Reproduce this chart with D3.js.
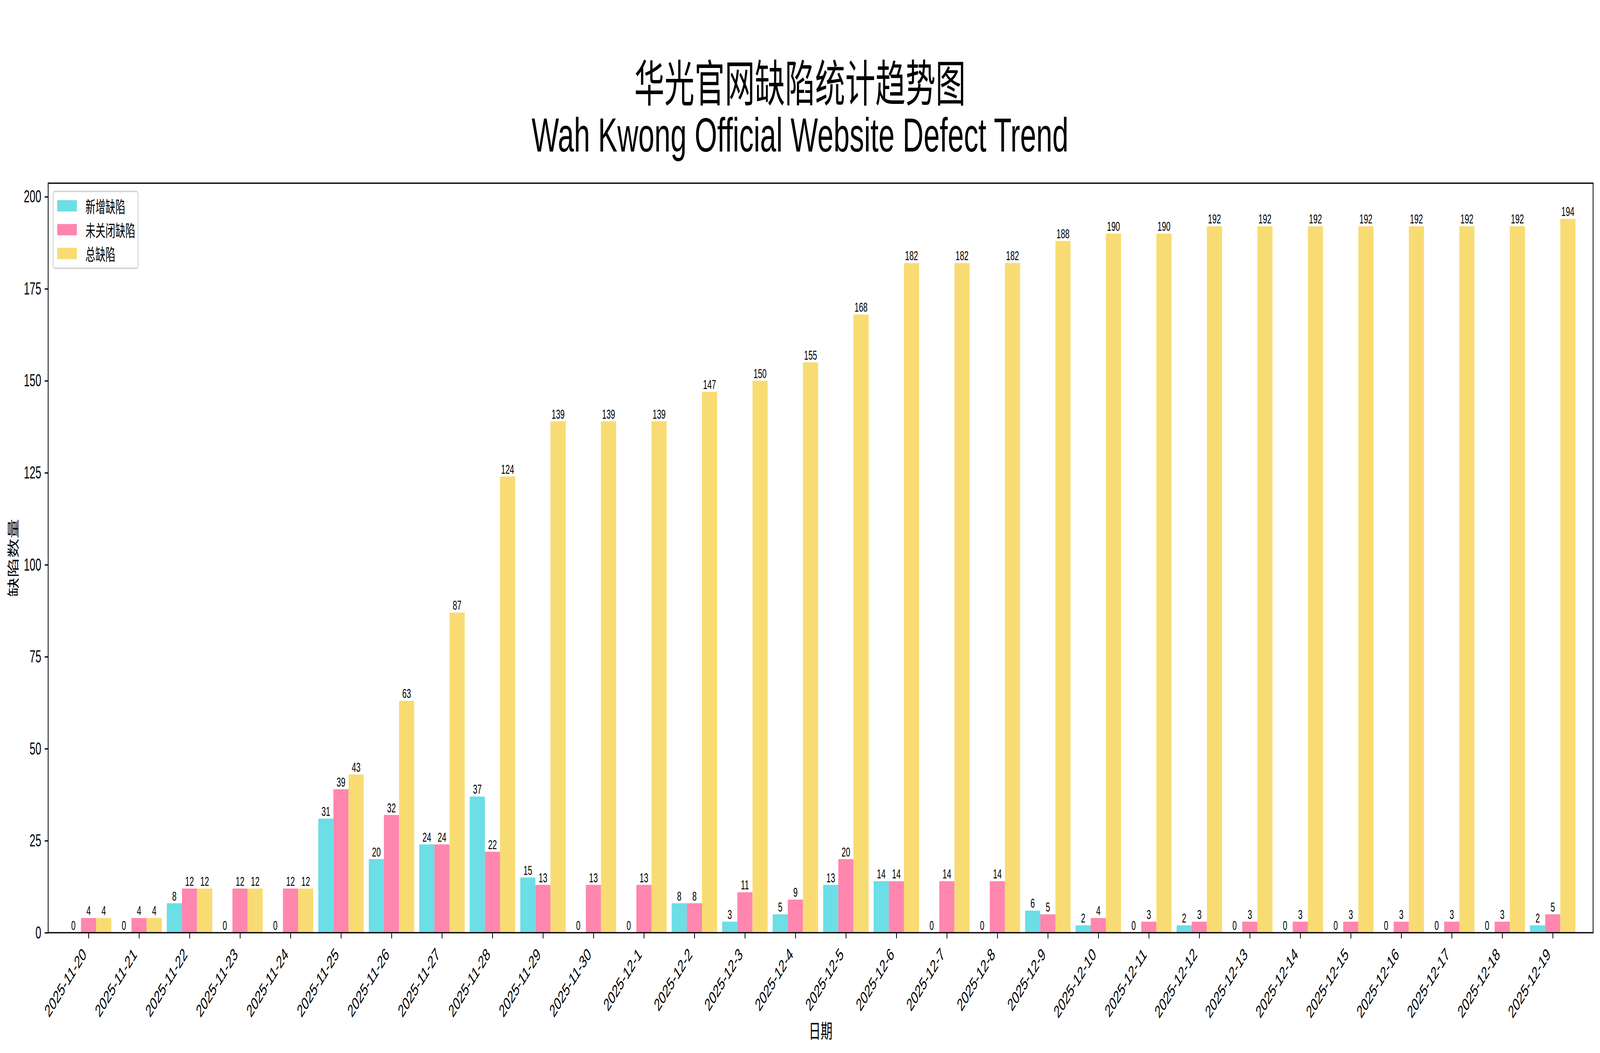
<!DOCTYPE html>
<html>
<head>
<meta charset="utf-8">
<script src="https://cdn.jsdelivr.net/npm/d3@7/dist/d3.min.js"></script>
<style>
  html, body { margin: 0; padding: 0; background: #fff; overflow: hidden; }
  svg { display: block; width: 100vw; height: 100vh; }
</style>
</head>
<body>
<script>
// Data
const dates = [
  "2025-11-20", "2025-11-21", "2025-11-22", "2025-11-23", "2025-11-24",
  "2025-11-25", "2025-11-26", "2025-11-27", "2025-11-28", "2025-11-29",
  "2025-11-30", "2025-12-1", "2025-12-2", "2025-12-3", "2025-12-4",
  "2025-12-5", "2025-12-6", "2025-12-7", "2025-12-8", "2025-12-9",
  "2025-12-10", "2025-12-11", "2025-12-12", "2025-12-13", "2025-12-14",
  "2025-12-15", "2025-12-16", "2025-12-17", "2025-12-18", "2025-12-19"
];
const newDefects = [0, 0, 8, 0, 0, 31, 20, 24, 37, 15, 0, 0, 8, 3, 5, 13, 14, 0, 0, 6, 2, 0, 2, 0, 0, 0, 0, 0, 0, 2];
const openDefects = [4, 4, 12, 12, 12, 39, 32, 24, 22, 13, 13, 13, 8, 11, 9, 20, 14, 14, 14, 5, 4, 3, 3, 3, 3, 3, 3, 3, 3, 5];
const totalDefects = [4, 4, 12, 12, 12, 43, 63, 87, 124, 139, 139, 139, 147, 150, 155, 168, 182, 182, 182, 188, 190, 190, 192, 192, 192, 192, 192, 192, 192, 194];
const seriesNames = ["新增缺陷", "未关闭缺陷", "总缺陷"];
const colors = ["#6cdee6", "#ff86ae", "#f8dc73"];
const yTicks = [0, 25, 50, 75, 100, 125, 150, 175, 200];

const W = 6743, H = 2696;
const margin = { top: 469, right: W - 6714, bottom: H - 2388, left: 203 };
const font = "'Liberation Sans', 'Noto Sans CJK SC', sans-serif";
const cjk = "'Noto Sans CJK SC', sans-serif";
const tickLen = 14.6, lw = 3.3;

const series = [newDefects, openDefects, totalDefects];
const barW = 0.3;
const offsets = [-0.3, 0, 0.3];

const x = d3.scaleLinear().domain([-0.8, dates.length - 1 + 0.8]).range([margin.left, W - margin.right]);
const y = d3.scaleLinear().domain([0, 194 * 1.05]).range([H - margin.bottom, margin.top]);

// drawn in 6743x2696 units, stretched to whatever the window really is
const svg = d3.select("body").append("svg")
  .attr("viewBox", `0 0 ${W} ${H}`)
  .attr("preserveAspectRatio", "none")
  .style("font-family", font);

svg.append("rect").attr("width", W).attr("height", H).attr("fill", "#fff");

// bars + value labels
series.forEach((vals, s) => {
  const g = svg.append("g");
  g.selectAll("rect")
    .data(vals)
    .enter().append("rect")
    .attr("x", (d, i) => x(i + offsets[s] - barW / 2))
    .attr("width", x(barW) - x(0))
    .attr("y", d => y(d))
    .attr("height", d => y(0) - y(d))
    .attr("fill", colors[s]);
  g.selectAll("text")
    .data(vals)
    .enter().append("text")
    .attr("x", (d, i) => x(i + offsets[s]))
    .attr("y", d => y(d) - 7)
    .attr("text-anchor", "middle")
    .attr("font-size", 33)
    .attr("fill", "#000")
    .text(d => d);
});

// Y axis
const yAxis = svg.append("g")
  .attr("transform", `translate(${margin.left},0)`)
  .call(d3.axisLeft(y).tickValues(yTicks).tickSize(tickLen).tickPadding(tickLen));
yAxis.select(".domain").remove();
yAxis.selectAll("line").attr("stroke", "#000").attr("stroke-width", lw);
yAxis.selectAll("text").attr("font-size", 44).attr("font-family", font).attr("fill", "#000");

// X axis
const xAxis = svg.append("g")
  .attr("transform", `translate(0,${H - margin.bottom})`)
  .call(d3.axisBottom(x).tickValues(d3.range(dates.length)).tickFormat(i => dates[i]).tickSize(tickLen));
xAxis.select(".domain").remove();
xAxis.selectAll("line").attr("stroke", "#000").attr("stroke-width", lw);
const d0 = 18;
xAxis.selectAll("text")
  .attr("font-size", 45).attr("font-family", font).attr("fill", "#000")
  .attr("y", null).attr("dy", null)
  .attr("text-anchor", "end")
  .attr("dominant-baseline", "central")
  .attr("transform", `translate(${-d0},${tickLen * 2 + d0}) rotate(-45)`);

// frame (spines)
svg.append("rect")
  .attr("x", margin.left).attr("y", margin.top)
  .attr("width", W - margin.right - margin.left)
  .attr("height", H - margin.bottom - margin.top)
  .attr("fill", "none").attr("stroke", "#000").attr("stroke-width", lw);

// axis labels
svg.append("text")
  .attr("transform", `translate(52,${(margin.top + H - margin.bottom) / 2}) rotate(-90)`)
  .attr("text-anchor", "middle").attr("dominant-baseline", "central")
  .attr("font-family", cjk).attr("font-size", 50)
  .text("缺陷数量");
svg.append("text")
  .attr("x", (margin.left + W - margin.right) / 2).attr("y", 2636)
  .attr("text-anchor", "middle").attr("dominant-baseline", "central")
  .attr("font-family", cjk).attr("font-size", 50)
  .text("日期");

// title
svg.append("text")
  .attr("x", W / 2).attr("y", 260)
  .attr("text-anchor", "middle")
  .attr("font-family", cjk).attr("font-size", 127)
  .text("华光官网缺陷统计趋势图");
svg.append("text")
  .attr("x", W / 2).attr("y", 388)
  .attr("text-anchor", "middle")
  .attr("font-size", 122)
  .text("Wah Kwong Official Website Defect Trend");

// legend
const lg = svg.append("g").attr("transform", `translate(${margin.left + 21},${margin.top + 21})`);
lg.append("rect")
  .attr("width", 358).attr("height", 197).attr("rx", 8)
  .attr("fill", "#fff").attr("fill-opacity", 0.8)
  .attr("stroke", "#d6d6d6").attr("stroke-width", 4);
seriesNames.forEach((name, i) => {
  const cy = 37 + i * 61;
  lg.append("rect").attr("x", 17).attr("y", cy - 14.5).attr("width", 83).attr("height", 29).attr("fill", colors[i]);
  lg.append("text").attr("x", 136).attr("y", cy)
    .attr("dominant-baseline", "central")
    .attr("font-family", cjk).attr("font-size", 42)
    .text(name);
});
</script>
</body>
</html>
